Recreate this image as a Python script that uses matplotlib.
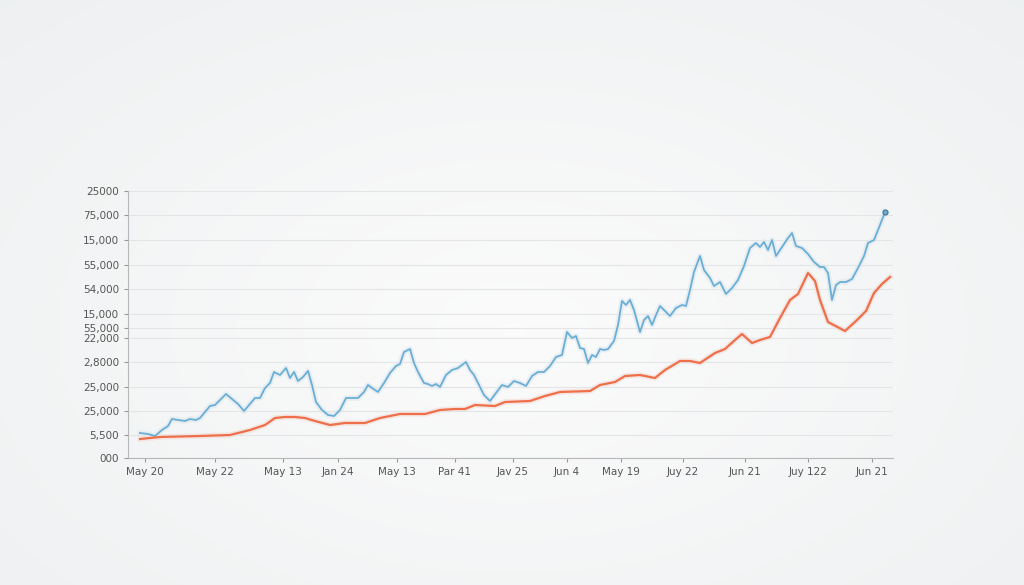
import numpy as np
import matplotlib.pyplot as plt

# x positions (days, arbitrary units) and values
blue_x = [140,148,155,162,168,172,178,185,190,196,200,205,210,215,220,226,232,238,244,250,255,260,265,270,274,280,286,290,294,298,303,308,312,316,322,328,334,340,346,352,358,364,368,372,378,384,390,396,400,404,410,414,418,424,428,432,436,440,446,452,458,462,466,470,474,478,484,490,496,502,508,514,520,526,532,538,544,550,556,562,567,572,576,580,584,588,592,596,600,604,608,614,618,622,626,630,634,640,644,648,652,656,660,664,670,676,682,686,690,694,700,704,710,714,720,726,732,738,744,750,756,760,764,768,772,776,782,788,792,796,802,808,814,820,824,828,832,836,840,846,852,858,864,868,874,880,885]
blue_py = [433,434,436,430,426,419,420,421,419,420,418,412,406,405,400,394,399,404,411,404,398,398,388,383,372,375,368,378,372,381,377,371,385,402,410,415,416,410,398,398,398,392,385,388,392,383,373,366,364,352,349,363,372,383,384,386,384,387,375,370,368,365,362,370,375,383,395,401,393,385,387,381,383,386,376,372,372,366,357,355,332,338,336,348,349,363,355,357,349,350,349,341,325,301,305,300,310,332,320,316,325,315,306,310,316,308,305,306,290,272,256,270,278,286,282,294,288,280,266,248,243,247,242,250,240,256,247,238,233,246,248,254,262,267,267,273,300,285,282,282,279,268,256,243,240,225,212]
orange_x = [140,150,160,200,230,250,265,275,285,295,305,315,330,345,365,380,400,425,440,455,465,475,495,505,530,545,560,590,600,615,625,640,655,665,680,690,700,715,725,735,742,752,760,770,780,790,798,808,815,820,828,845,856,866,874,882,890]
orange_py = [439,438,437,436,435,430,425,418,417,417,418,421,425,423,423,418,414,414,410,409,409,405,406,402,401,396,392,391,385,382,376,375,378,370,361,361,363,353,349,340,334,343,340,337,318,300,294,273,281,300,322,331,321,311,293,284,277]
blue = [458 - v for v in blue_py]
orange = [458 - v for v in orange_py]

ytick_pos = [267, 243, 218, 193, 169, 144, 130, 120, 96, 71, 47, 23, 0]
ytick_labels = ["25000", "75,000", "15,000", "55,000", "54,000", "15,000", "55,000", "22,000",
                "2,8000", "25,000", "25,000", "5,500", "000"]
xtick_pos = [145, 215, 283, 338, 397, 455, 513, 567, 621, 683, 745, 808, 872]
xtick_labels = ["May 20", "May 22", "May 13", "Jan 24", "May 13", "Par 41", "Jav 25",
                "Jun 4", "May 19", "Juy 22", "Jun 21", "Juy 122", "Jun 21"]

fig = plt.figure(figsize=(10.24, 5.85), dpi=100)

# soft background, slightly cool grey at the edges
bg = fig.add_axes([0, 0, 1, 1])
yy, xx = np.mgrid[0:585, 0:1024]
r = np.clip(np.sqrt(((xx - 512) / 650) ** 2 + ((yy - 330) / 400) ** 2), 0, 1.3)
center = np.array([0.985, 0.985, 0.985])
edge = np.array([0.925, 0.935, 0.94])
img = center + (edge - center) * (r[..., None] / 1.3)
bg.imshow(img, aspect="auto", interpolation="bilinear")
bg.axis("off")

ax = fig.add_axes([128 / 1024, (585 - 458) / 585, (893 - 128) / 1024, (458 - 191) / 585])
ax.patch.set_alpha(0)
ax.plot(blue_x, blue, color="#dde8ef", linewidth=4, alpha=0.6, zorder=1)
ax.plot(orange_x, orange, color="#f3ddd6", linewidth=4, alpha=0.6, zorder=1)
ax.plot(blue_x, blue, color="#6aaed6", linewidth=1.3, zorder=3)
ax.plot(orange_x, orange, color="#ee6f4a", linewidth=1.6, zorder=3)
ax.plot(blue_x[-1], blue[-1], "o", markersize=3.5, color="#6aaed6", markeredgecolor="#4d7f9c", zorder=4)

ax.set_xlim(128, 893)
ax.set_ylim(0, 267)
ax.set_yticks(ytick_pos)
ax.set_yticklabels(ytick_labels)
ax.set_xticks(xtick_pos)
ax.set_xticklabels(xtick_labels)
ax.tick_params(colors="#9a9a9a", labelcolor="#555555", labelsize=7.5, length=3)
ax.grid(axis="y", color="#e3e5e7", linewidth=0.8)
for s in ["top", "right"]:
    ax.spines[s].set_visible(False)
for s in ["left", "bottom"]:
    ax.spines[s].set_color("#b5b8bb")

fig.savefig("out.png", dpi=100)
